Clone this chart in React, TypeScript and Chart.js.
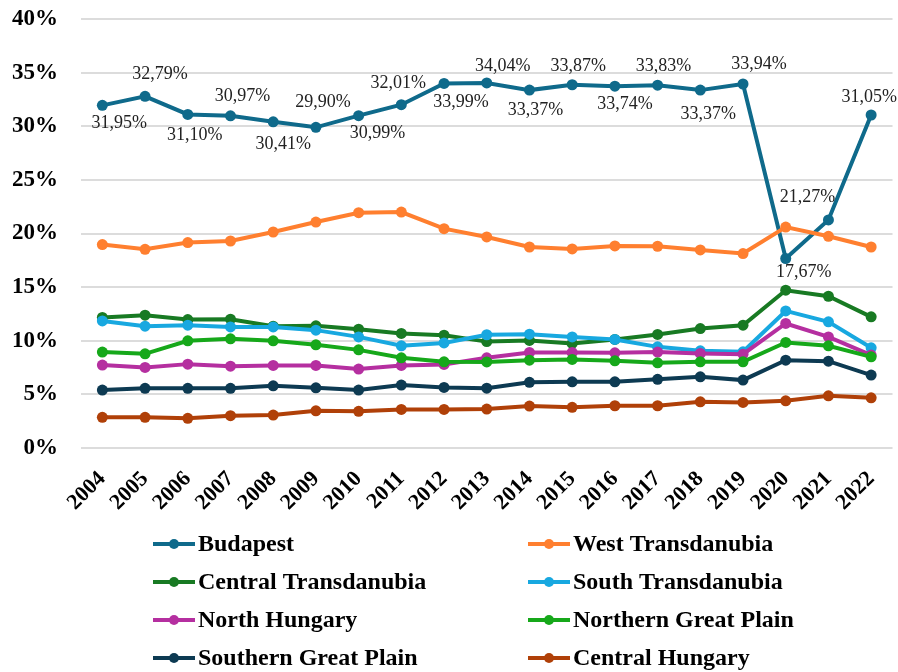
import React, { useEffect, useRef } from "react";
import { Chart, registerables } from "chart.js";

Chart.register(...registerables);

const years = ["2004", "2005", "2006", "2007", "2008", "2009", "2010", "2011", "2012", "2013", "2014", "2015", "2016", "2017", "2018", "2019", "2020", "2021", "2022"];

const budapest = [31.95, 32.79, 31.1, 30.97, 30.41, 29.9, 30.99, 32.01, 33.99, 34.04, 33.37, 33.87, 33.74, 33.83, 33.37, 33.94, 17.67, 21.27, 31.05];
const westTransdanubia = [18.97, 18.53, 19.15, 19.3, 20.14, 21.07, 21.94, 22.0, 20.45, 19.68, 18.74, 18.56, 18.84, 18.81, 18.47, 18.13, 20.6, 19.74, 18.74];
const centralTransdanubia = [12.17, 12.38, 11.98, 12.01, 11.36, 11.39, 11.08, 10.68, 10.52, 9.92, 10.03, 9.75, 10.12, 10.59, 11.14, 11.45, 14.71, 14.15, 12.23];
const southTransdanubia = [11.85, 11.36, 11.45, 11.29, 11.29, 10.99, 10.36, 9.53, 9.8, 10.56, 10.61, 10.36, 10.12, 9.43, 9.06, 8.97, 12.78, 11.76, 9.34];
const northHungary = [7.73, 7.51, 7.82, 7.63, 7.7, 7.7, 7.36, 7.7, 7.79, 8.41, 8.91, 8.91, 8.87, 8.94, 8.82, 8.75, 11.61, 10.36, 8.66];
const northernGreatPlain = [8.94, 8.78, 9.99, 10.18, 9.99, 9.62, 9.15, 8.41, 8.04, 8.02, 8.19, 8.26, 8.13, 7.94, 8.04, 8.04, 9.84, 9.53, 8.5];
const southernGreatPlain = [5.4, 5.56, 5.56, 5.56, 5.8, 5.61, 5.4, 5.87, 5.65, 5.58, 6.12, 6.17, 6.17, 6.4, 6.64, 6.33, 8.19, 8.1, 6.8];
const centralHungary = [2.86, 2.86, 2.77, 3.01, 3.07, 3.47, 3.42, 3.6, 3.6, 3.63, 3.91, 3.79, 3.94, 3.94, 4.31, 4.25, 4.4, 4.87, 4.68];

const seriesNames = ["Budapest", "West Transdanubia", "Central Transdanubia", "South Transdanubia", "North Hungary", "Northern Great Plain", "Southern Great Plain", "Central Hungary"];
const seriesValues = [budapest, westTransdanubia, centralTransdanubia, southTransdanubia, northHungary, northernGreatPlain, southernGreatPlain, centralHungary];
const seriesColors = ["#0F6A8B", "#FF7F2F", "#187A23", "#18A8E0", "#B52FA0", "#16A81A", "#0D3A52", "#B04008"];

// label placement for the Budapest value labels (styling only)
const labelDx = [17, 15, 7, 12, 10, 7, 19, -3, 17, 16, 6, 6, 10, 6, 8, 16, 18, -21, -2];
const labelDy = [18, -22, 21, -20, 22, -25, 18, -21, 19, -17, 20, -18, 18, -19, 24, -20, 14, -23, -18];

const SERIF = "'Liberation Serif', 'Times New Roman', serif";

const valueLabelPlugin = {
  id: "valueLabels",
  afterDatasetsDraw(chart: any) {
    const meta = chart.getDatasetMeta(0);
    const ctx = chart.ctx;
    ctx.save();
    ctx.font = `18px ${SERIF}`;
    ctx.fillStyle = "#222222";
    ctx.textAlign = "center";
    ctx.textBaseline = "middle";
    meta.data.forEach((pt: any, i: number) => {
      const v = budapest[i];
      const txt = v.toFixed(2).replace(".", ",") + "%";
      ctx.fillText(txt, pt.x + labelDx[i], pt.y + labelDy[i]);
    });
    ctx.restore();
  },
};

const legendPlugin = {
  id: "customLegend",
  afterDraw(chart: any) {
    const ctx = chart.ctx;
    const colX = [153, 528];
    const rowY = [544, 582, 620, 658];
    ctx.save();
    seriesNames.forEach((name, i) => {
      const x = colX[i % 2];
      const y = rowY[Math.floor(i / 2)];
      ctx.strokeStyle = seriesColors[i];
      ctx.lineWidth = 4;
      ctx.beginPath();
      ctx.moveTo(x, y);
      ctx.lineTo(x + 42, y);
      ctx.stroke();
      ctx.fillStyle = seriesColors[i];
      ctx.beginPath();
      ctx.arc(x + 21, y, 5, 0, Math.PI * 2);
      ctx.fill();
      ctx.fillStyle = "#000000";
      ctx.font = `bold 24px ${SERIF}`;
      ctx.textAlign = "left";
      ctx.textBaseline = "middle";
      ctx.fillText(name, x + 45, y + 1);
    });
    ctx.restore();
  },
};

export default function App() {
  const ref = useRef<HTMLCanvasElement | null>(null);

  useEffect(() => {
    document.body.style.margin = "0";
    if (!ref.current) return;
    const chart = new Chart(ref.current, {
      type: "line",
      data: {
        labels: years,
        datasets: seriesNames.map((name, i) => ({
          label: name,
          data: seriesValues[i],
          borderColor: seriesColors[i],
          backgroundColor: seriesColors[i],
          pointBackgroundColor: seriesColors[i],
          pointBorderColor: seriesColors[i],
          pointRadius: 5.5,
          pointBorderWidth: 0,
          borderWidth: 4,
          tension: 0,
          order: -i,
        })),
      },
      options: {
        animation: false,
        responsive: false,
        maintainAspectRatio: false,
        layout: { padding: { top: 19, left: 0, right: 4, bottom: 150 } },
        plugins: {
          legend: { display: false },
          tooltip: { enabled: false },
        },
        scales: {
          x: {
            offset: true,
            grid: { display: false, drawTicks: false },
            border: { display: false },
            ticks: {
              autoSkip: false,
              minRotation: 45,
              maxRotation: 45,
              padding: 18,
              color: "#000000",
              font: { family: SERIF, size: 22, weight: "bold" },
            },
            afterFit: (scale: any) => {
              scale.height = 74;
              scale.paddingLeft = 0;
              scale.paddingRight = 0;
            },
          },
          y: {
            min: 0,
            max: 40,
            ticks: {
              stepSize: 5,
              padding: 23,
              color: "#000000",
              font: { family: SERIF, size: 23, weight: "bold" },
              callback: (v: any) => `${v}%`,
            },
            grid: { color: "#dcdcdc", lineWidth: 2, drawTicks: false },
            border: { display: false },
            afterFit: (scale: any) => {
              scale.width = 81;
              scale.paddingTop = 0;
              scale.paddingBottom = 0;
            },
          },
        },
      },
      plugins: [valueLabelPlugin, legendPlugin],
    });
    return () => chart.destroy();
  }, []);

  return (
    <div style={{ width: 898, height: 672 }}>
      <canvas ref={ref} width={898} height={672} style={{ display: "block", width: 898, height: 672 }} />
    </div>
  );
}
